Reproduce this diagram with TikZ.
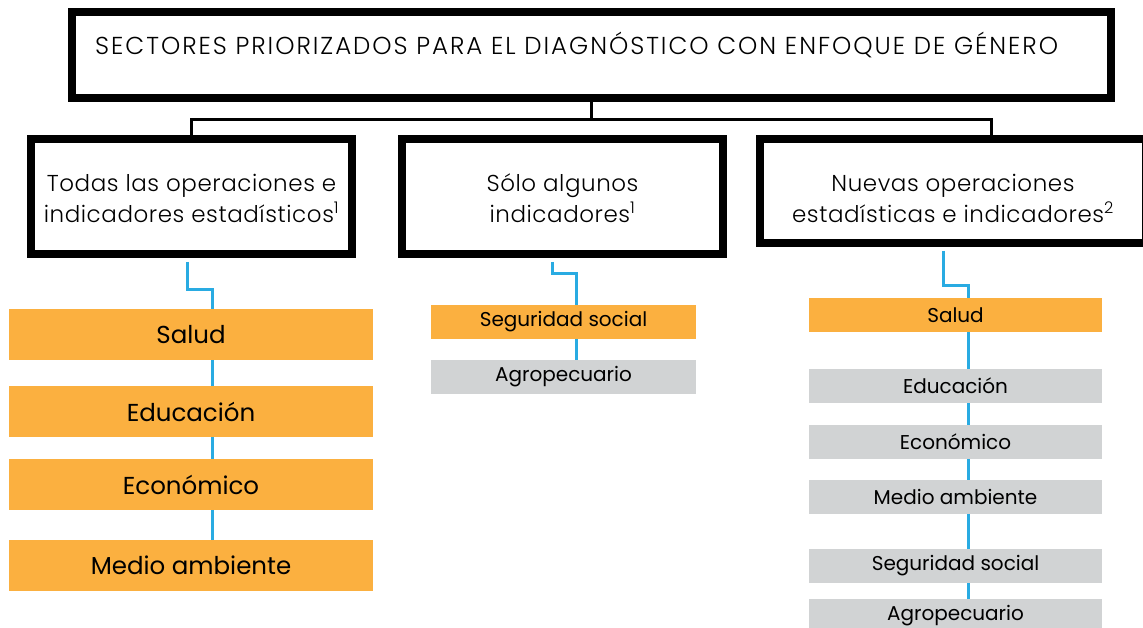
\documentclass[tikz,border=0pt]{standalone}
\usepackage{fontspec}
\setmainfont{Poppins}
\newfontfamily\lightf{Poppins Light}
\newfontfamily\titlef{Poppins Light}[LetterSpace=8]
\newfontfamily\headf{Poppins Light}[LetterSpace=2.5]
\definecolor{orng}{HTML}{FBB040}
\definecolor{gry}{HTML}{D1D3D4}
\definecolor{sky}{HTML}{29ABE2}
\tikzset{
  bigbox/.style={draw=black, line width=8pt, fill=white, inner sep=0pt, align=center},
  headtxt/.style={font=\headf\fontsize{23}{31}\selectfont, align=center, inner sep=0pt},
  lbox/.style={fill=orng, minimum width=364pt, minimum height=51pt, inner sep=0pt, font=\fontsize{24.5}{28}\selectfont},
  sbox/.style={minimum height=34pt, inner sep=0pt, font=\fontsize{20}{24}\selectfont},
  blk/.style={draw=black, line width=3pt},
  bl/.style={draw=sky, line width=3pt},
}
\begin{document}
\begin{tikzpicture}[x=1pt,y=-1pt]
\fill[white] (0,0) rectangle (1143,628);
\useasboundingbox (0,0) rectangle (1143,628);
% coordinates for x-positions of connectors
\coordinate (x3) at (991,0);
\coordinate (lx) at (212,0);
\coordinate (mx) at (576,0);
\coordinate (rx) at (968,0);
% top box
\node[bigbox, minimum width=1039pt, minimum height=86pt] (top) at (591.5,55) {};
\node[anchor=west, inner sep=0pt, font=\titlef\fontsize{24.5}{28}\selectfont] (title) at (95,45) {SECTORES PRIORIZADOS PARA EL DIAGNÓSTICO CON ENFOQUE DE GÉNERO};
% header boxes
\node[bigbox, minimum width=321pt, minimum height=115pt] (h1) at (191.5,196.5) {};
\node[headtxt] (h1t) at (191.5,198.5) {Todas las operaciones e\\indicadores estadísticos\textsuperscript{1}};
\node[bigbox, minimum width=321pt, minimum height=115pt] (h2) at (562.5,196.5) {};
\node[headtxt] (h2t) at (562.5,198.5) {Sólo algunos\\indicadores\textsuperscript{1}};
\node[bigbox, minimum width=386pt, minimum height=104pt] (h3) at (953,191) {};
\node[headtxt] (h3t) at (953,198.5) {Nuevas operaciones\\estadísticas e indicadores\textsuperscript{2}};
% black connectors
\draw[blk] (top.south) -- (top.south |- 0,120);
\draw[blk] (h1.north) |- (x3 |- 0,120) -- (x3 |- h3.north);
% left column
\node[lbox] (L1) at (191,334.5) {Salud};
\node[lbox] (L2) at (191,411.5) {Educación};
\node[lbox] (L3) at (191,484.5) {Económico};
\node[lbox] (L4) at (191,565.5) {Medio ambiente};
% middle column
\node[sbox, fill=orng, minimum width=265pt] (M1) at (563.5,322) {Seguridad social};
\node[sbox, fill=gry, minimum width=265pt] (M2) at (563.5,377) {Agropecuario};
% right column
\node[sbox, fill=orng, minimum width=293pt] (R1) at (955.5,315) {Salud};
\node[sbox, fill=gry, minimum width=293pt] (R2) at (955.5,386) {Educación};
\node[sbox, fill=gry, minimum width=293pt] (R3) at (955.5,442) {Económico};
\node[sbox, fill=gry, minimum width=293pt] (R4) at (955.5,497) {Medio ambiente};
\node[sbox, fill=gry, minimum width=293pt] (R5) at (955.5,566) {Seguridad social};
\node[sbox, fill=gry, minimum width=293pt] (R6) at (955.5,616) {Agropecuario};
% blue connectors
\draw[bl] ([xshift=-4.5pt,yshift=-4pt]h1.south) -- ++(0,28) -| (L1.north -| lx);
\draw[bl] (L1.south -| lx) -- (L2.north -| lx);
\draw[bl] (L2.south -| lx) -- (L3.north -| lx);
\draw[bl] (L3.south -| lx) -- (L4.north -| lx);
\draw[bl] ([xshift=-10.5pt,yshift=-4pt]h2.south) -- ++(0,12) -| (M1.north -| mx);
\draw[bl] (M1.south -| mx) -- (M2.north -| mx);
\draw[bl] ([xshift=-10pt,yshift=-4pt]h3.south) -- ++(0,35) -| (R1.north -| rx);
\draw[bl] (R1.south -| rx) -- (R2.north -| rx);
\draw[bl] (R2.south -| rx) -- (R3.north -| rx);
\draw[bl] (R3.south -| rx) -- (R4.north -| rx);
\draw[bl] (R4.south -| rx) -- (R5.north -| rx);
\draw[bl] (R5.south -| rx) -- (R6.north -| rx);
\end{tikzpicture}
\end{document}
